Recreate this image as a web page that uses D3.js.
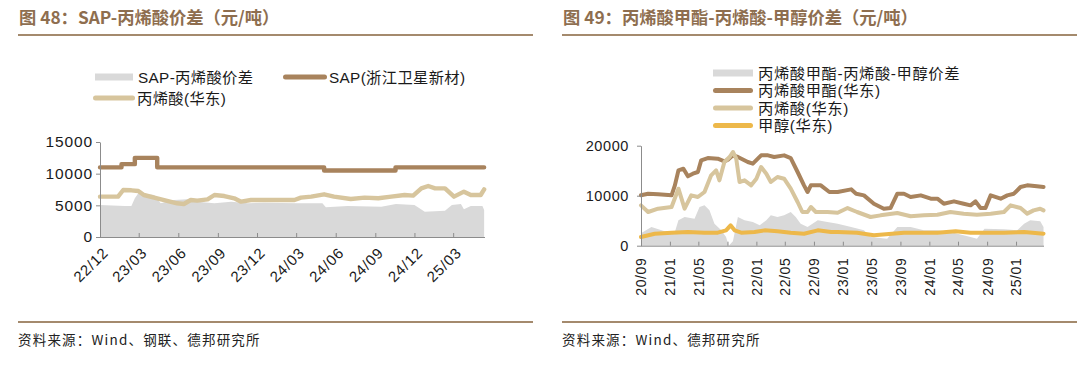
<!DOCTYPE html>
<html><head><meta charset="utf-8">
<script src="https://cdn.jsdelivr.net/npm/d3@7"></script>
<style>body{margin:0;background:#fff}svg{display:block}</style></head>
<body>
<svg id="c" width="1080" height="366"></svg>
<script>
// ---------- Left chart (图48) ----------
const leftTickLabels = ["22/12","23/03","23/06","23/09","23/12","24/03","24/06","24/09","24/12","25/03"];
const leftYTicks = [0, 5000, 10000, 15000];
const sapPrice = [["2022-12-01",11000],["2023-01-20",11500],["2023-02-20",12500],["2023-04-13",11000],["2024-05-05",10500],["2024-10-18",11000],["2025-05-12",11000]];
const acrylicLeft = [["2022-12-01",6370],["2023-01-12",6370],["2023-01-24",7420],["2023-02-12",7370],["2023-02-28",7270],["2023-03-13",6630],["2023-04-13",6110],["2023-04-29",5840],["2023-05-29",5320],["2023-06-14",5210],["2023-06-30",5840],["2023-07-15",5740],["2023-08-08",5950],["2023-08-24",6630],["2023-09-16",6470],["2023-10-09",6110],["2023-10-25",5580],["2023-11-17",5840],["2023-12-18",5840],["2024-01-26",5840],["2024-02-26",5840],["2024-03-12",6210],["2024-04-05",6370],["2024-05-05",6740],["2024-05-28",6370],["2024-07-06",6000],["2024-08-07",6210],["2024-09-08",6110],["2024-10-08",6370],["2024-11-08",6630],["2024-11-28",6530],["2024-12-17",7680],["2025-01-02",8050],["2025-01-18",7680],["2025-02-10",7680],["2025-03-03",6370],["2025-03-26",7160],["2025-04-11",6630],["2025-05-04",6630],["2025-05-12",7530]];
const sapSpread = [["2022-12-01",5050],["2023-01-28",4900],["2023-02-12",4900],["2023-02-20",6100],["2023-02-28",6900],["2023-04-06",6630],["2023-04-21",5320],["2023-05-22",5840],["2023-06-22",5950],["2023-07-15",5580],["2023-08-24",5320],["2023-10-02",5580],["2023-11-10",5320],["2023-12-18",5420],["2024-03-05",5320],["2024-05-01",5320],["2024-05-09",4680],["2024-06-29",4900],["2024-09-15",4790],["2024-10-19",5210],["2024-12-01",5050],["2024-12-25",3990],["2025-02-10",4150],["2025-02-26",5050],["2025-03-19",5210],["2025-03-26",4370],["2025-04-11",4900],["2025-05-08",4900],["2025-05-12",4260]];
const leftLegend = ["SAP-丙烯酸价差","SAP(浙江卫星新材)","丙烯酸(华东)"];

// ---------- Right chart (图49) ----------
const rightTickLabels = ["20/09","21/01","21/05","21/09","22/01","22/05","22/09","23/01","23/05","23/09","24/01","24/05","24/09","25/01"];
const rightYTicks = [0, 10000, 20000];
const methylAcrylate = [["2020-09-01",10080],["2020-10-01",10400],["2020-11-12",10300],["2021-01-08",10080],["2021-01-22",12070],["2021-02-06",15070],["2021-02-27",15400],["2021-03-18",13870],["2021-04-08",14400],["2021-04-29",14740],["2021-05-13",17070],["2021-06-10",17530],["2021-07-22",17400],["2021-08-19",16870],["2021-09-03",17200],["2021-09-24",18070],["2021-10-15",17740],["2021-11-26",16740],["2021-12-17",16400],["2022-01-21",18070],["2022-02-19",18070],["2022-03-17",17740],["2022-04-28",18070],["2022-05-26",17530],["2022-06-24",14740],["2022-07-21",12070],["2022-08-05",10740],["2022-08-19",12070],["2022-09-30",12070],["2022-11-05",10740],["2022-12-10",10740],["2023-02-05",11270],["2023-02-26",10400],["2023-03-31",10070],["2023-05-12",8400],["2023-06-23",7400],["2023-07-21",7530],["2023-08-19",10400],["2023-09-16",10400],["2023-10-14",9740],["2023-11-26",10070],["2024-01-07",9400],["2024-02-04",9400],["2024-03-02",8400],["2024-04-14",8870],["2024-05-25",8400],["2024-06-23",8070],["2024-07-14",8870],["2024-08-04",7530],["2024-08-25",7530],["2024-09-16",10070],["2024-10-28",9400],["2024-11-25",10070],["2024-12-23",10400],["2025-01-20",11740],["2025-02-17",12070],["2025-03-30",11870],["2025-04-27",11740]];
const acrylicRight = [["2020-09-01",8070],["2020-10-01",6740],["2020-11-12",7400],["2021-01-08",7740],["2021-02-06",11400],["2021-03-04",7400],["2021-04-01",10070],["2021-04-29",9740],["2021-05-27",10740],["2021-06-24",14070],["2021-07-15",15070],["2021-07-29",13070],["2021-08-19",16740],["2021-09-10",17740],["2021-09-24",18740],["2021-10-08",17400],["2021-10-22",12740],["2021-11-12",13070],["2021-12-10",12070],["2022-01-01",13400],["2022-01-21",15740],["2022-02-12",14400],["2022-03-03",12740],["2022-03-31",13740],["2022-04-28",13400],["2022-05-26",11400],["2022-06-24",8740],["2022-07-14",6740],["2022-08-05",6740],["2022-08-19",7740],["2022-09-09",6740],["2022-10-28",6740],["2022-12-10",6600],["2023-01-21",7530],["2023-03-02",6740],["2023-04-28",5740],["2023-06-09",6070],["2023-08-19",6540],["2023-10-14",5900],["2023-12-09",6070],["2024-02-04",6200],["2024-03-30",6740],["2024-05-25",6400],["2024-07-20",6200],["2024-09-16",6400],["2024-11-11",6740],["2024-12-09",8070],["2025-01-20",7530],["2025-02-17",6410],["2025-03-16",7070],["2025-04-13",7400],["2025-04-27",7070]];
const methanol = [["2020-09-01",1740],["2020-10-29",2400],["2021-01-08",2600],["2021-03-18",2740],["2021-05-27",2600],["2021-07-22",2600],["2021-08-26",3070],["2021-09-14",4070],["2021-10-01",3070],["2021-10-29",2600],["2021-12-24",2740],["2022-02-05",3070],["2022-03-31",2870],["2022-05-26",2600],["2022-07-21",2400],["2022-09-17",3070],["2022-11-12",2740],["2022-12-10",2740],["2023-03-02",2600],["2023-05-12",2070],["2023-09-16",2600],["2024-02-04",2600],["2024-04-21",2870],["2024-06-23",2600],["2024-11-11",2600],["2025-02-04",2740],["2025-04-27",2400]];
const maSpread = [["2020-09-01",2500],["2020-10-15",3740],["2020-12-10",2870],["2021-01-22",2740],["2021-02-06",5070],["2021-03-04",5740],["2021-04-15",5400],["2021-05-06",7740],["2021-05-27",8070],["2021-06-17",7070],["2021-07-08",4400],["2021-08-06",3070],["2021-08-26",1740],["2021-09-06",0],["2021-09-24",870],["2021-10-15",5740],["2021-11-12",5070],["2021-12-17",4740],["2022-01-15",4070],["2022-02-12",5070],["2022-03-03",6070],["2022-03-31",5740],["2022-04-28",6070],["2022-05-26",6740],["2022-06-16",5740],["2022-07-07",4400],["2022-08-05",3740],["2022-09-17",5070],["2022-10-28",4740],["2022-12-10",4400],["2023-02-05",3740],["2023-03-31",3070],["2023-04-28",1740],["2023-07-07",1400],["2023-08-19",3740],["2023-10-14",3740],["2023-12-09",3070],["2024-02-04",3070],["2024-03-30",2740],["2024-06-23",1740],["2024-07-20",1400],["2024-08-21",3400],["2024-11-11",3270],["2025-01-06",3070],["2025-02-04",4400],["2025-03-02",5070],["2025-04-13",4870],["2025-04-27",3740]];
const rightLegend = ["丙烯酸甲酯-丙烯酸-甲醇价差","丙烯酸甲酯(华东)","丙烯酸(华东)","甲醇(华东)"];

const titles = ["图 48：SAP-丙烯酸价差（元/吨）","图 49：丙烯酸甲酯-丙烯酸-甲醇价差（元/吨）"];
const sources = ["资料来源：Wind、钢联、德邦研究所","资料来源：Wind、德邦研究所"];

// ---------- styles ----------
const C = {gray:"#d9d9d9", brown:"#a8835d", tan:"#d7c59d", orange:"#edb84a", title:"#8e6e4f", rule:"#a48a6d", axis:"#8c8c8c", text:"#1a1a1a"};
const FONT = "'Liberation Sans', Arial, 'Noto Sans CJK SC', sans-serif";
const CJK = "'Noto Sans CJK SC', sans-serif";

const parse = d3.timeParse("%Y-%m-%d");
const tickDate = s => new Date(2000 + +s.slice(0,2), +s.slice(3) - 1, 1);
const svg = d3.select("#c");

// titles, rules, sources
[[18,533],[562,1077]].forEach((r,i)=>{
  svg.append("text").attr("x", r[0]+1).attr("y", 24).attr("fill", C.title)
    .attr("font-family", CJK).attr("font-weight", "bold").attr("font-size", 17.3).text(titles[i]);
  svg.append("line").attr("x1", r[0]).attr("x2", r[1]).attr("y1", 35).attr("y2", 35).attr("stroke", C.rule).attr("stroke-width", 2);
  svg.append("line").attr("x1", r[0]).attr("x2", r[1]).attr("y1", 322).attr("y2", 322).attr("stroke", C.rule).attr("stroke-width", 2);
  svg.append("text").attr("x", r[0]).attr("y", 345).attr("fill", "#222")
    .attr("font-family", CJK).attr("font-size", 13.5).attr("letter-spacing", 1.2).text(sources[i]);
});

function drawChart(cfg){
  const g = svg.append("g");
  const x = d3.scaleTime().domain(cfg.xDomain.map(parse)).range(cfg.xRange);
  const y = d3.scaleLinear().domain([0, cfg.yMax]).range(cfg.yRange);
  const pts = arr => arr.map(d => [parse(d[0]), d[1]]);
  // area
  g.append("path").datum(pts(cfg.area))
    .attr("fill", C.gray)
    .attr("d", d3.area().x(d=>x(d[0])).y0(y(0)).y1(d=>y(d[1])));
  // lines
  cfg.lines.forEach(l=>{
    g.append("path").datum(pts(l.data)).attr("fill","none").attr("stroke", l.color)
      .attr("stroke-width", cfg.lw).attr("stroke-linejoin","round").attr("stroke-linecap","round")
      .attr("d", d3.line().x(d=>x(d[0])).y(d=>y(d[1])).curve(l.curve || d3.curveLinear));
  });
  // y axis
  const ya = g.append("g").attr("transform", `translate(${cfg.xRange[0]},0)`)
    .call(d3.axisLeft(y).tickValues(cfg.yTicks).tickSize(4).tickSizeOuter(0).tickFormat(d3.format("d")));
  ya.select(".domain").attr("stroke", C.axis);
  ya.selectAll(".tick line").attr("stroke", C.axis);
  ya.selectAll("text").attr("font-family", FONT).attr("font-size", cfg.yFont).attr("letter-spacing", cfg.ySpacing)
    .attr("fill", C.text).attr("x", cfg.yLabelX);
  // x axis
  const tickDates = cfg.xTicks.map(tickDate);
  const xa = g.append("g").attr("transform", `translate(0,${cfg.yRange[0]})`)
    .call(d3.axisBottom(x).tickValues(tickDates).tickSize(-4).tickSizeOuter(0).tickFormat((d,i)=>cfg.xTicks[i]));
  xa.select(".domain").attr("stroke", C.axis).attr("d", `M${cfg.xRange[0]},0.5H${cfg.xRange[1]}`);
  xa.selectAll(".tick line").attr("stroke", C.axis);
  const xt = xa.selectAll("text").attr("font-family", FONT).attr("font-size", cfg.xFont).attr("letter-spacing", cfg.xSpacing).attr("fill", C.text);
  cfg.rotateLabels(xt);
  // legend
  cfg.legend.forEach((it,i)=>{
    if (it.kind === "rect") {
      g.append("rect").attr("x", it.x).attr("y", it.y-3.5).attr("width", it.w).attr("height", 7).attr("fill", it.color);
    } else {
      g.append("line").attr("x1", it.x+2.5).attr("x2", it.x+it.w-2.5).attr("y1", it.y).attr("y2", it.y)
        .attr("stroke", it.color).attr("stroke-width", 5).attr("stroke-linecap","round");
    }
    g.append("text").attr("x", it.x + it.w + it.gap).attr("y", it.y).attr("dy","0.36em")
      .attr("font-family", FONT).attr("font-size", cfg.legFont).attr("letter-spacing", cfg.legSpacing)
      .attr("fill", C.text).text(it.label);
  });
}

drawChart({
  xDomain:["2022-12-01","2025-05-14"], xRange:[100,485], yMax:15000, yRange:[237,142],
  yTicks:leftYTicks, xTicks:leftTickLabels, yFont:15.5, ySpacing:0.9, yLabelX:-7, xFont:15, xSpacing:0.8, lw:4.4,
  area:sapSpread,
  lines:[{data:sapPrice,color:C.brown,curve:d3.curveStepAfter},{data:acrylicLeft,color:C.tan}],
  rotateLabels: t => t.attr("text-anchor","end").attr("dy","0.35em").attr("y",0)
     .attr("transform","translate(5,13) rotate(-45)"),
  legFont:15.3, legSpacing:0.35,
  legend:[
    {kind:"rect",x:95,y:77,w:38,gap:5,color:C.gray,label:leftLegend[0]},
    {kind:"line",x:283,y:77,w:44,gap:2,color:C.brown,label:leftLegend[1]},
    {kind:"line",x:93,y:98,w:42,gap:2,color:C.tan,label:leftLegend[2]}
  ]
});

drawChart({
  xDomain:["2020-09-01","2025-04-29"], xRange:[641,1044], yMax:20000, yRange:[245.7,145.7],
  yTicks:rightYTicks, xTicks:rightTickLabels, yFont:14.5, ySpacing:0.6, yLabelX:-12, xFont:14, xSpacing:0.6, lw:4,
  area:maSpread,
  lines:[{data:methylAcrylate,color:C.brown},{data:acrylicRight,color:C.tan},{data:methanol,color:C.orange}],
  rotateLabels: t => t.attr("text-anchor","end").attr("dy","0.35em").attr("y",0).attr("x",0)
     .attr("transform","translate(0,12) rotate(-90)"),
  legFont:15.3, legSpacing:0.6,
  legend:[
    {kind:"rect",x:713,y:73,w:40,gap:5,color:C.gray,label:rightLegend[0]},
    {kind:"line",x:713,y:90.5,w:40,gap:5,color:C.brown,label:rightLegend[1]},
    {kind:"line",x:713,y:108,w:40,gap:5,color:C.tan,label:rightLegend[2]},
    {kind:"line",x:713,y:125.5,w:40,gap:5,color:C.orange,label:rightLegend[3]}
  ]
});
</script>
</body></html>
